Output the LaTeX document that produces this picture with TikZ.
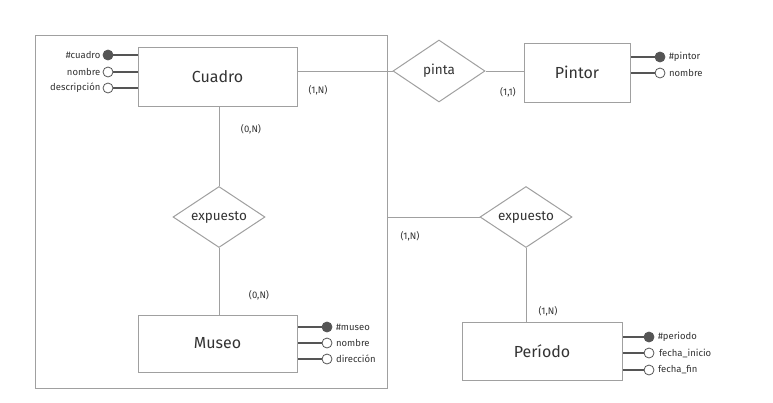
\documentclass[tikz,border=0pt]{standalone}
\usepackage{fontspec}
\setmainfont{Fira Sans}
\usetikzlibrary{shapes.geometric}
\definecolor{edgegray}{HTML}{A0A0A0}
\definecolor{txtgray}{HTML}{333333}
\definecolor{attrgray}{HTML}{555555}
\tikzset{
  entity/.style={draw=edgegray, line width=1pt, fill=white, minimum width=159pt, inner sep=0pt, text=txtgray, font=\fontsize{16}{18}\selectfont},
  rel/.style={diamond, draw=edgegray, line width=1pt, fill=white, aspect=1.5, inner sep=0pt, minimum width=92pt, minimum height=62pt, text=txtgray, font=\fontsize{13.5}{15}\selectfont},
  link/.style={draw=edgegray, line width=0.9pt},
  attrline/.style={draw=attrgray, line width=1.1pt},
  keydot/.style={circle, fill=attrgray, draw=attrgray, line width=0.8pt, minimum size=10pt, inner sep=0pt},
  plaindot/.style={circle, fill=white, draw=attrgray, line width=0.8pt, minimum size=10pt, inner sep=0pt},
  attrtxt/.style={text=txtgray, font=\fontsize{9.5}{11}\selectfont, inner sep=2pt},
  rattr/.style={attrtxt, anchor=west, inner xsep=3.5pt},
  card/.style={text=txtgray, font=\fontsize{9.5}{11}\selectfont, inner sep=0pt},
}
\begin{document}
\begin{tikzpicture}[x=1pt, y=-1pt]
\useasboundingbox (0,0) rectangle (773,402);
% aggregation frame
\node[draw=edgegray, line width=0.9pt, minimum width=352pt, minimum height=353pt, inner sep=0pt] (agg) at (211,211.5) {};
% entities
\node[entity, minimum height=59pt] (cuadro) at (217.5,76.5) {Cuadro};
\node[entity, minimum width=106pt, minimum height=59pt] (pintor) at (577,72.5) {Pintor};
\node[entity, minimum height=57pt] (museo) at (217.5,343.5) {Museo};
\node[entity, minimum width=160pt, minimum height=58pt] (periodo) at (542,351) {Período};
% relationships
\node[rel] (pinta) at (439,71) {pinta};
\node[rel, minimum height=61pt] (exp1) at (219,217) {expuesto};
\node[rel, minimum height=61pt] (exp2) at (526,217) {expuesto};
% connectors
\draw[link] (cuadro.east |- pinta.west) -- (pinta.west);
\draw[link] (pinta.east) -- (pintor.west |- pinta.east);
\draw[link] (exp1.north) -- (exp1.north |- cuadro.south);
\draw[link] (exp1.south) -- (exp1.south |- museo.north);
\draw[link] (agg.east |- exp2.west) -- (exp2.west);
\draw[link] (exp2.south) -- (exp2.south |- periodo.north);
% cardinalities
\node[card] (c1) at (318,90) {(1,N)};
\node[card] (c2) at (508,92) {(1,1)};
\node[card] (c3) at (251,129) {(0,N)};
\node[card] (c4) at (259,295) {(0,N)};
\node[card] (c5) at (410,236) {(1,N)};
\node[card] (c6) at (548,311) {(1,N)};
% Cuadro attributes
\node[keydot] (cq1) at (108,55) {};
\node[plaindot] (cq2) at (108,72) {};
\node[plaindot] (cq3) at (108,88) {};
\draw[attrline] (cq1) -- (cq1 -| cuadro.west);
\draw[attrline] (cq2) -- (cq2 -| cuadro.west);
\draw[attrline] (cq3) -- (cq3 -| cuadro.west);
\node[attrtxt, anchor=east] (tq1) at (cq1.west) {\#cuadro};
\node[attrtxt, anchor=east] (tq2) at (cq2.west) {nombre};
\node[attrtxt, anchor=east] (tq3) at (cq3.west) {descripción};
% Pintor attributes
\node[keydot] (cp1) at (660,57) {};
\node[plaindot] (cp2) at (660,73) {};
\draw[attrline] (cp1) -- (cp1 -| pintor.east);
\draw[attrline] (cp2) -- (cp2 -| pintor.east);
\node[rattr] (tp1) at (cp1.east) {\#pintor};
\node[rattr] (tp2) at (cp2.east) {nombre};
% Museo attributes
\node[keydot] (cm1) at (327,327) {};
\node[plaindot] (cm2) at (327,343) {};
\node[plaindot] (cm3) at (327,359) {};
\draw[attrline] (cm1) -- (cm1 -| museo.east);
\draw[attrline] (cm2) -- (cm2 -| museo.east);
\draw[attrline] (cm3) -- (cm3 -| museo.east);
\node[rattr] (tm1) at (cm1.east) {\#museo};
\node[rattr] (tm2) at (cm2.east) {nombre};
\node[rattr] (tm3) at (cm3.east) {dirección};
% Periodo attributes
\node[keydot] (cr1) at (649,337) {};
\node[plaindot] (cr2) at (649,353) {};
\node[plaindot] (cr3) at (649,370) {};
\draw[attrline] (cr1) -- (cr1 -| periodo.east);
\draw[attrline] (cr2) -- (cr2 -| periodo.east);
\draw[attrline] (cr3) -- (cr3 -| periodo.east);
\node[rattr] (tr1) at (cr1.east) {\#periodo};
\node[rattr, xshift=1pt] (tr2) at (cr2.east) {fecha\_inicio};
\node[rattr] (tr3) at (cr3.east) {fecha\_fin};
\end{tikzpicture}
\end{document}
